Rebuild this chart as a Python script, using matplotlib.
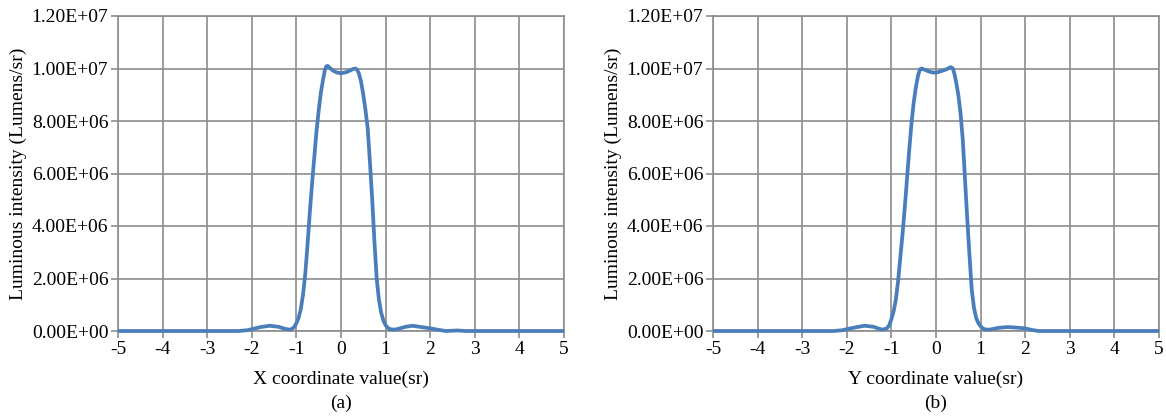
import numpy as np
import matplotlib
matplotlib.use("Agg")
import matplotlib.pyplot as plt
from matplotlib.ticker import FuncFormatter

#--------------------------------------------------
# data (intensity in 1e6 Lumens/sr)
xa = [-5.0, -2.3, -2.1, -2.0, -1.8, -1.6, -1.4, -1.25, -1.15, -1.1, -1.05,
      -1.0, -0.95, -0.9, -0.85, -0.8, -0.75, -0.7, -0.65, -0.6, -0.55, -0.5,
      -0.45, -0.4, -0.36, -0.33, -0.3, -0.25, -0.18, -0.1, 0.0, 0.1, 0.2,
      0.27, 0.32, 0.36, 0.4, 0.45, 0.5, 0.55, 0.6, 0.65, 0.7, 0.75, 0.8,
      0.85, 0.9, 0.95, 1.0, 1.05, 1.1, 1.2, 1.3, 1.45, 1.6, 1.8, 2.0, 2.2,
      2.35, 2.6, 2.8, 5.0]
ya = [0.0, 0.0, 0.03, 0.07, 0.15, 0.2, 0.16, 0.08, 0.05, 0.08, 0.15,
      0.3, 0.5, 0.85, 1.4, 2.2, 3.3, 4.5, 5.6, 6.6, 7.6, 8.4,
      9.1, 9.6, 9.95, 10.08, 10.1, 10.02, 9.92, 9.85, 9.82, 9.85, 9.92,
      9.98, 10.0, 9.96, 9.82, 9.5, 9.0, 8.4, 7.7, 6.4, 5.0, 3.4, 2.0,
      1.2, 0.7, 0.4, 0.22, 0.12, 0.07, 0.05, 0.09, 0.16, 0.2, 0.15, 0.1, 0.04,
      0.0, 0.02, 0.0, 0.0]

xb = [-5.0, -2.3, -2.1, -2.0, -1.8, -1.6, -1.4, -1.3, -1.2, -1.1, -1.05,
      -1.0, -0.95, -0.9, -0.85, -0.8, -0.75, -0.7, -0.65, -0.6, -0.55, -0.5,
      -0.45, -0.4, -0.36, -0.32, -0.25, -0.15, -0.05, 0.05, 0.15, 0.25,
      0.3, 0.34, 0.38, 0.42, 0.46, 0.5, 0.55, 0.6, 0.65, 0.7, 0.75, 0.8,
      0.85, 0.9, 0.95, 1.0, 1.05, 1.1, 1.2, 1.4, 1.6, 1.8, 2.0, 2.15, 2.3, 5.0]
yb = [0.0, 0.0, 0.03, 0.07, 0.14, 0.2, 0.16, 0.1, 0.05, 0.1, 0.22,
      0.45, 0.75, 1.2, 1.9, 2.8, 3.7, 4.7, 5.8, 6.9, 7.9, 8.7,
      9.3, 9.75, 9.97, 10.0, 9.95, 9.88, 9.84, 9.86, 9.92, 9.98,
      10.03, 10.05, 10.0, 9.75, 9.4, 9.0, 8.3, 7.3, 5.8, 4.3, 2.9, 1.6,
      0.9, 0.5, 0.3, 0.18, 0.1, 0.06, 0.05, 0.12, 0.15, 0.13, 0.1, 0.04, 0.0, 0.0]

xticks = [-5, -4, -3, -2, -1, 0, 1, 2, 3, 4, 5]
yticks = [0, 2e6, 4e6, 6e6, 8e6, 1e7, 1.2e7]

xlabels = ["X coordinate value(sr)", "Y coordinate value(sr)"]
panels = ["(a)", "(b)"]
ylabel = "Luminous intensity (Lumens/sr)"

#--------------------------------------------------
plt.rc('font', family=['Liberation Serif', 'DejaVu Serif'])
plt.rc('font', size=14)
plt.rc('axes', unicode_minus=False)

fig = plt.figure(figsize=(11.66, 4.18), dpi=100)

gcol = '#8c8c8c'
lcol = '#4a7ebb'

def sci(v, pos):
    return "{:.2E}".format(v)

def xfmt(v, pos):
    return "{:d}".format(int(round(v)))

lefts = [118/1166, 713/1166]
width = 446/1166
bottom = 87/418
height = 315/418

for k, (xs, ys) in enumerate([(xa, ya), (xb, yb)]):
    ax = fig.add_axes([lefts[k], bottom, width, height])
    ax.plot(xs, np.array(ys)*1e6, color=lcol, lw=2.7, clip_on=False, zorder=5,
            solid_joinstyle='round', solid_capstyle='butt')

    ax.set_xlim(-5, 5)
    ax.set_ylim(0, 1.2e7)
    ax.set_xticks(xticks)
    ax.set_yticks(yticks)
    ax.xaxis.set_major_formatter(FuncFormatter(xfmt))
    ax.yaxis.set_major_formatter(FuncFormatter(sci))

    ax.grid(True, color=gcol, lw=1.2)
    ax.set_axisbelow(True)
    for s in ax.spines.values():
        s.set_color(gcol)
        s.set_linewidth(1.2)

    ax.tick_params(axis='both', direction='out', color=gcol, width=1.2,
                   length=5, labelsize=14, pad=2)

    ax.set_xlabel(xlabels[k], fontsize=14)
    ax.xaxis.set_label_coords(0.5, -0.125)
    ax.set_ylabel(ylabel, fontsize=14, labelpad=3)
    ax.text(0.5, -0.229, panels[k], transform=ax.transAxes, ha='center',
            va='center', fontsize=14)

plt.savefig('out.png', dpi=100)
